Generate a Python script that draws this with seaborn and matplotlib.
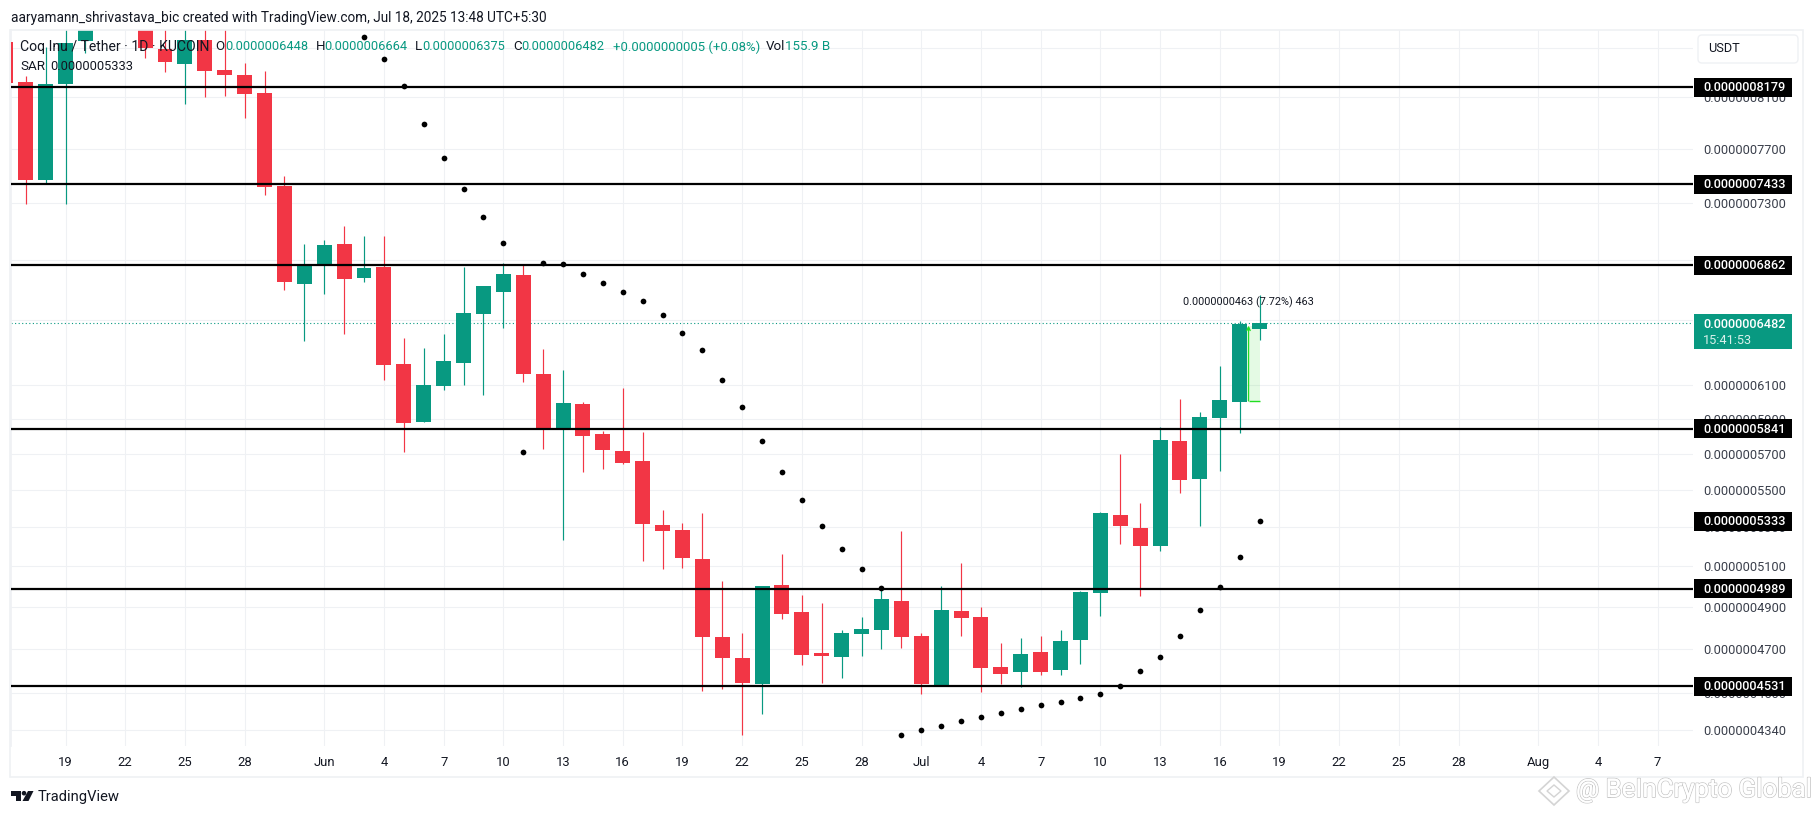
# -*- coding: utf-8 -*-
import matplotlib
matplotlib.use("Agg")
import matplotlib.pyplot as plt
import matplotlib.patheffects as pe
from matplotlib.patches import Rectangle, FancyBboxPatch, Polygon, Circle
import pandas as pd
import seaborn as sns

# prices are in units of 0.0000000001
opens = [8554, 8223, 7466, 8207, 8563, 8800, 9050, 8800, 8493, 8371, 8571, 8321, 8280, 8134, 7422, 6738,
         6872, 7009, 6778, 6852, 6227, 5881, 6093, 6233, 6542, 6685, 6798, 6166, 5840, 5986, 5812, 5715,
         5658, 5313, 5287, 5137, 4757, 4659, 4542, 5008, 4876, 4683, 4664, 4771, 4790, 4929,
         4762, 4538, 4881, 4852, 4618, 4596, 4687, 4605, 4743, 4968, 5365, 5297, 5204, 5771, 5560, 5904, 5998, 6448]
highs = [8600, 8272, 8512, 9000, 8950, 9150, 9200, 8950, 8700, 8750, 8750, 8720, 8377, 8313, 7496, 7009,
         7037, 7135, 7065, 7065, 6389, 6326, 6414, 6852, 6725, 6879, 6872, 6320, 6190, 5998, 5829, 6081,
         5823, 5392, 5323, 5376, 5027, 4776, 5003, 5163, 4959, 4920, 4790, 4852, 4983, 5282,
         4776, 5003, 5117, 4900, 4727, 4752, 4762, 4790, 4978, 5381, 5698, 5429, 5852, 6016, 5939, 6214, 6497, 6664]
lows = [8100, 7291, 7437, 7291, 8465, 8700, 8720, 8421, 8308, 8047, 8105, 8111, 7939, 7356, 6699, 6370,
        6672, 6414, 6752, 6129, 5709, 5881, 6070, 6099, 6040, 6452, 6117, 5726, 5235, 5598, 5613, 5642,
        5127, 5087, 5092, 4511, 4520, 4319, 4409, 4843, 4628, 4547, 4569, 4669, 4701, 4706,
        4498, 4538, 4762, 4507, 4542, 4529, 4583, 4583, 4632, 4857, 5214, 4954, 5178, 5483, 5308, 5604, 5817, 6375]
closes = [8215, 7466, 8207, 8546, 8800, 9050, 8800, 8504, 8390, 8571, 8316, 8280, 8129, 7417, 6752, 6872,
          7003, 6772, 6845, 6220, 5875, 6099, 6245, 6548, 6725, 6805, 6166, 5835, 5992, 5800, 5720, 5647,
          5318, 5282, 5142, 4757, 4659, 4547, 5003, 4867, 4673, 4669, 4776, 4795, 4939, 4757,
          4542, 4886, 4848, 4614, 4587, 4678, 4596, 4738, 4973, 5376, 5308, 5204, 5777, 5554, 5910, 6010, 6478, 6482]

sar_values = [8594, 8410, 8189, 7888, 7627, 7398, 7196, 7014, 5709, 6877, 6870, 6803, 6743, 6683, 6624, 6533,
              6418, 6312, 6127, 5967, 5770, 5596, 5443, 5306, 5187, 5085, 4991, 4318,
              4339, 4356, 4377, 4395, 4412, 4430, 4448, 4461, 4479, 4496, 4532, 4600, 4663, 4761, 4884, 4996, 5146, 5333]

level_lines = [8179, 7433, 6862, 5841, 4989, 4531]
level_labels = [8179, 7433, 6862, 5841, 5333, 4989, 4531]
price_ticks = [8500, 8100, 7700, 7300, 6900, 6500, 6100, 5900, 5700, 5500, 5300, 5100, 4900, 4700, 4500, 4340]
date_ticks = ["2025-05-19", "2025-05-22", "2025-05-25", "2025-05-28", "2025-06-01", "2025-06-04", "2025-06-07",
              "2025-06-10", "2025-06-13", "2025-06-16", "2025-06-19", "2025-06-22", "2025-06-25", "2025-06-28",
              "2025-07-01", "2025-07-04", "2025-07-07", "2025-07-10", "2025-07-13", "2025-07-16", "2025-07-19",
              "2025-07-22", "2025-07-25", "2025-07-28", "2025-08-01", "2025-08-04", "2025-08-07"]
date_labels = ["19", "22", "25", "28", "Jun", "4", "7", "10", "13", "16", "19", "22", "25", "28",
               "Jul", "4", "7", "10", "13", "16", "19", "22", "25", "28", "Aug", "4", "7"]

last_price = 6482
measure_low = 6004
measure_high = 6467
measure_label_y = 6619

UP = "#089981"
DOWN = "#F23645"
GRID = "#eff1f4"
TEXT = "#131722"

sns.set_theme(style="white")
plt.rcParams["font.family"] = ["Roboto", "DejaVu Sans"]

candles = pd.DataFrame({"date": pd.date_range("2025-05-16", periods=len(opens)),
                        "open": opens, "high": highs, "low": lows, "close": closes})
candles["color"] = [UP if c >= o else DOWN for o, c in zip(opens, closes)]
sar = pd.DataFrame({"date": pd.date_range("2025-06-03", periods=len(sar_values)), "sar": sar_values})


def price_str(v):
    return "%.10f" % (v * 1e-10)


fig = plt.figure(figsize=(18.14, 8.16), dpi=100, facecolor="white")
ax = fig.add_axes([11 / 1814, 70 / 816, 1682 / 1814, 716 / 816])
ax.set_axisbelow(True)

ax.vlines(candles["date"], candles["low"], candles["high"], colors=candles["color"], linewidth=0.85, zorder=3)
ax.bar(candles["date"], abs(candles["close"] - candles["open"]),
       bottom=candles[["open", "close"]].min(axis=1), width=0.75, color=candles["color"], linewidth=0, zorder=4)
sns.scatterplot(data=sar, x="date", y="sar", color="black", s=17, linewidth=0, legend=False, ax=ax, zorder=6)

ax.hlines(level_lines, 0, 1, transform=ax.get_yaxis_transform(), colors="black", linewidth=1.6, zorder=5)
ax.axhline(last_price, color=UP, linewidth=0.8, linestyle=(0, (1, 2.2)), zorder=2)

# price range measure next to the last candle
m_left = pd.Timestamp("2025-07-17 10:40")
m_right = pd.Timestamp("2025-07-18")
ax.fill_between([m_left, m_right], measure_low, measure_high, color="#22dd22", alpha=0.12, linewidth=0, zorder=2)
ax.hlines(measure_low, m_left, m_right, colors="#22dd22", linewidth=1.0, zorder=5)
ax.annotate("", xy=(m_left, measure_high), xytext=(m_left, measure_low),
            arrowprops=dict(arrowstyle="->", color="#22dd22", lw=1.0, shrinkA=0, shrinkB=0, mutation_scale=6), zorder=5)
ax.text(m_left, measure_label_y, "%s (7.72%%) 463" % price_str(measure_high - measure_low), ha="center", va="center",
        fontsize=7.8, color=TEXT, zorder=7)

ax.set_yscale("log")
ax.set_ylim(4272, 8656)
ax.set_xlim(pd.Timestamp("2025-05-19") - pd.Timedelta(days=2.74), pd.Timestamp("2025-05-19") + pd.Timedelta(days=81.78))
ax.set_xticks(pd.to_datetime(date_ticks))
ax.set_xticklabels(date_labels, fontsize=9.4, color=TEXT)
ax.yaxis.tick_right()
ax.set_yticks(price_ticks)
ax.set_yticklabels([price_str(p) for p in price_ticks], fontsize=9.2, color="#3a3f4b")
ax.minorticks_off()
ax.tick_params(axis="both", length=0)
ax.tick_params(axis="x", pad=7)
ax.tick_params(axis="y", pad=7.2)
ax.grid(True, color=GRID, linewidth=0.8)
ax.set_xlabel("")
ax.set_ylabel("")
for name in ["top", "bottom", "right"]:
    ax.spines[name].set_visible(False)
ax.spines["left"].set_color(GRID)

# overlay in figure pixels for the page furniture
ov = fig.add_axes([0, 0, 1, 1], facecolor="none")
ov.set_xlim(0, 1814)
ov.set_ylim(816, 0)
ov.axis("off")
ov.set_zorder(10)

ov.add_patch(Rectangle((10, 30), 1793, 747, fill=False, edgecolor=GRID, linewidth=1.2))


def price_to_px(value):
    # goes through the log scale of the main axes
    return 816 - ax.transData.transform((ax.get_xlim()[0], value))[1]


for value in level_labels:
    y = price_to_px(value)
    ov.add_patch(Rectangle((1694, y - 9.5), 98, 19, facecolor="black", edgecolor="none"))
    ov.text(1703, y + 0.5, price_str(value), color="white", fontsize=9.2, va="center", fontweight="medium")

ov.add_patch(Rectangle((1694, 314), 98, 35, facecolor=UP, edgecolor="none"))
ov.text(1703, 324, price_str(last_price), color="white", fontsize=9.2, va="center", fontweight="medium")
ov.text(1703, 340, "15:41:53", color="#d7f0ea", fontsize=9.2, va="center")
ov.add_patch(FancyBboxPatch((1700, 37), 96, 24, boxstyle="round,pad=2,rounding_size=4",
                            facecolor="white", edgecolor=GRID, linewidth=1))
ov.text(1708, 49, "USDT", color=TEXT, fontsize=9.2, va="center")

ov.text(11, 18, "aaryamann_shrivastava_bic created with TradingView.com, Jul 18, 2025 13:48 UTC+5:30",
        color=TEXT, fontsize=9.8, va="center")
ov.text(20, 47, "Coq Inu / Tether · 1D · KUCOIN", color=TEXT, fontsize=10.05, va="center")
for x, letter, val_x, val in [(215, "O", 225, "0.0000006448"), (315.5, "H", 324, "0.0000006664"),
                              (415, "L", 422, "0.0000006375"), (513, "C", 521.7, "0.0000006482")]:
    ov.text(x, 47, letter, color=TEXT, fontsize=9.6, va="center")
    ov.text(val_x, 47, val, color=UP, fontsize=9.2, va="center")
ov.text(612.7, 47, "+0.0000000005 (+0.08%)", color=UP, fontsize=9.45, va="center")
ov.text(766, 47, "Vol", color=TEXT, fontsize=9.6, va="center")
ov.text(785, 47, "155.9 B", color=UP, fontsize=9.6, va="center")
ov.text(20, 66, "SAR", color=TEXT, fontsize=9.6, va="center")
ov.text(50.6, 66, "0.0000005333", color=TEXT, fontsize=9.25, va="center")

# TradingView mark
ov.add_patch(Polygon([(11, 791), (20.5, 791), (20.5, 801), (15.5, 801), (15.5, 795.5), (11, 795.5)], color=TEXT, lw=0))
ov.add_patch(Circle((24, 793.2), 2.3, color=TEXT, lw=0))
ov.add_patch(Polygon([(28, 791), (33.5, 791), (28.5, 801), (22.5, 801)], color=TEXT, lw=0))
ov.text(38, 797, "TradingView", color=TEXT, fontsize=10.6, va="center")

# watermark
ov.add_patch(Polygon([(1554, 777), (1569, 791), (1554, 805), (1539, 791)], fill=False, edgecolor="#d4d4d4", lw=1.2))
ov.add_patch(Polygon([(1554, 785), (1561, 791), (1554, 797), (1547, 791)], fill=False, edgecolor="#d4d4d4", lw=1.0))
ov.text(1576, 790, "@ BeInCrypto Global", fontsize=18.6, va="center", color="white",
        path_effects=[pe.withStroke(linewidth=1.2, foreground="#c8c8c8"), pe.Normal()])

fig.savefig("out.png", dpi=100)
